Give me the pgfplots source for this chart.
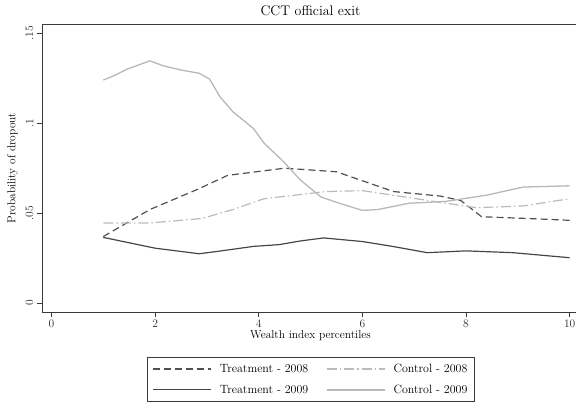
\documentclass[border=0pt]{standalone}
\usepackage{pgfplots}
\pgfplotsset{compat=1.18}
\definecolor{tdark}{HTML}{505050}
\definecolor{tsolid}{HTML}{464646}
\definecolor{cdash}{HTML}{BBBBBB}
\definecolor{clight}{HTML}{B8B8B8}
\definecolor{axc}{HTML}{3A3A3A}
\begin{document}
\begin{tikzpicture}
\useasboundingbox (-42bp,-97bp) rectangle (534bp,312bp);
\begin{axis}[
  at={(0,0)}, anchor=south west,
  scale only axis, width=537bp, height=288bp,
  xmin=-0.183, xmax=10.18, ymin=-0.005, ymax=0.1552,
  xtick={0,2,4,6,8,10},
  ytick={0,0.05,0.1,0.15},
  yticklabels={0,.05,.1,.15},
  scaled y ticks=false,
  tick align=outside, tick pos=left,
  major tick length=5bp,
  every tick/.style={axc, line width=0.8pt},
  axis line style={axc, line width=0.9pt},
  /pgf/number format/assume math mode=true,
  tick label style={font=\fontsize{11.5}{13}\selectfont, text=black!85},
  yticklabel style={rotate=90, anchor=south, yshift=0bp},
  xticklabel style={yshift=1bp},
  title={CCT official exit},
  title style={font=\fontsize{14}{16}\selectfont, at={(0.5,1)}, anchor=south, yshift=-1bp},
  xlabel={Wealth index percentiles},
  ylabel={Probability of dropout},
  xlabel style={font=\fontsize{11.5}{13}\selectfont, yshift=4bp},
  ylabel style={font=\fontsize{11.5}{13}\selectfont, yshift=1bp},
  legend columns=2,
  legend style={at={(0.501,-0.155)}, anchor=north, draw=axc, line width=0.8pt,
    font=\fontsize{12}{14}\selectfont, row sep=7bp,
    /tikz/every odd column/.append style={column sep=6bp},
    /tikz/every even column/.append style={column sep=16bp},
    inner xsep=5bp, inner ysep=5bp},
  legend image code/.code={\draw[#1] (0bp,0bp) -- (58bp,0bp);},
]
\addplot[tdark, line width=1.2pt, dash pattern=on 7bp off 4bp] coordinates {
(1,.037)(1.9,.052)(2.8,.063)(3.4,.071)(4.5,.075)(5.5,.073)(6.1,.067)(6.6,.062)(7.5,.0595)(7.9,.057)(8.3,.048)(9.2,.047)(10,.046)};
\addlegendentry{Treatment - 2008}
\addplot[cdash, line width=1.2pt, dash pattern=on 10bp off 3bp on 1.5bp off 3bp] coordinates {
(1,.0445)(1.9,.0445)(2.9,.047)(3.5,.052)(4.1,.058)(5.3,.062)(6.0,.0625)(6.7,.0595)(7.5,.056)(8.2,.053)(9.1,.054)(10,.058)};
\addlegendentry{Control - 2008}
\addplot[tsolid, line width=1.2pt] coordinates {
(1,.0365)(1.5,.0335)(2.0,.0305)(2.85,.0274)(3.2,.0287)(3.9,.0315)(4.4,.0325)(4.8,.0345)(5.25,.0362)(6.0,.0342)(6.6,.0314)(7.25,.0280)(8.0,.029)(8.9,.028)(10,.0252)};
\addlegendentry{Treatment - 2009}
\addplot[clight, line width=1.3pt] coordinates {
(1,.124)(1.25,.127)(1.45,.130)(1.9,.1347)(2.15,.132)(2.5,.1296)(2.85,.1278)(3.05,.1246)(3.25,.1148)(3.5,.1064)(3.9,.097)(4.1,.089)(4.5,.078)(4.8,.0685)(5.2,.059)(5.5,.056)(6.0,.0515)(6.3,.052)(6.9,.0555)(7.6,.0565)(8.4,.060)(9.1,.0645)(10,.0652)};
\addlegendentry{Control - 2009}
\end{axis}
\end{tikzpicture}
\end{document}
